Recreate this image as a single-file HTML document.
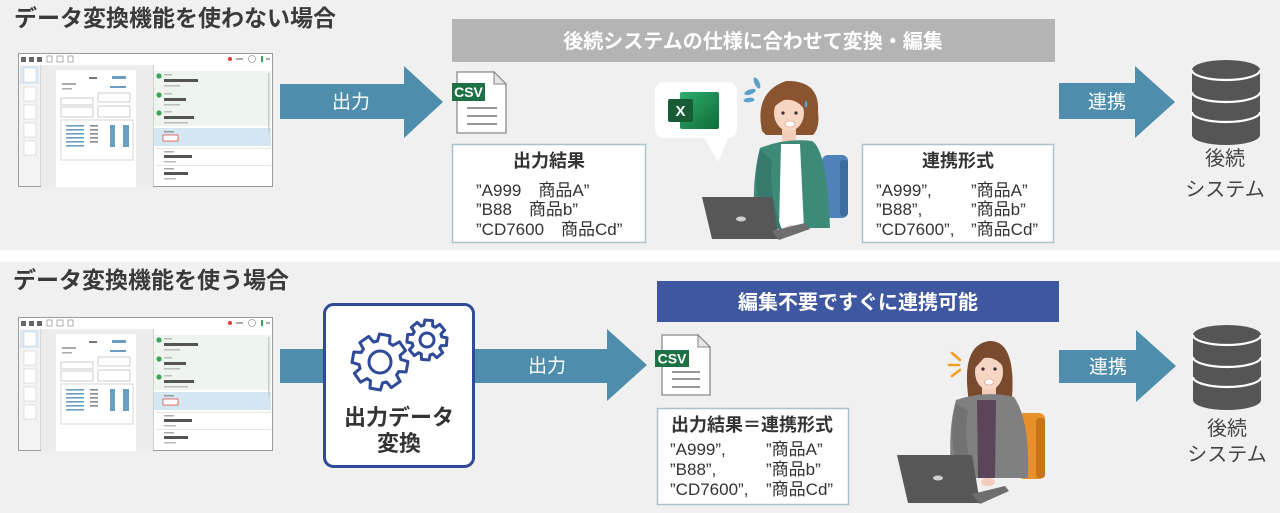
<!DOCTYPE html>
<html><head><meta charset="utf-8">
<style>
html,body{margin:0;padding:0;background:#fff;}
svg{display:block;}
text{font-family:"Liberation Sans","Noto Sans CJK JP",sans-serif;}
</style></head>
<body>
<svg width="1280" height="513" viewBox="0 0 1280 513" xmlns="http://www.w3.org/2000/svg">
<defs>
  <g id="shot">
    <rect x="0.5" y="0.5" width="254" height="133" fill="#fbfbfb" stroke="#9c9c9c"/>
    <rect x="1" y="1" width="253" height="11" fill="#fff"/>
    <rect x="3" y="4" width="5" height="5" fill="#666"/>
    <rect x="11" y="4" width="5" height="5" fill="#666"/>
    <rect x="19" y="4" width="5" height="5" fill="#666"/>
    <rect x="29" y="3" width="5" height="6" fill="none" stroke="#999" stroke-width="0.8"/>
    <rect x="39" y="3" width="6" height="6" fill="none" stroke="#999" stroke-width="0.8"/>
    <rect x="50" y="3" width="5" height="6" fill="none" stroke="#999" stroke-width="0.8"/>
    <circle cx="212" cy="6" r="2" fill="#e53935"/>
    <rect x="218" y="5" width="7" height="2" fill="#aaa"/>
    <circle cx="234" cy="6" r="3.5" fill="none" stroke="#999" stroke-width="0.8"/>
    <rect x="243" y="3" width="2" height="6" fill="#3aa35a"/>
    <rect x="248" y="5" width="4" height="2" fill="#aaa"/>
    <rect x="1" y="12" width="21" height="121" fill="#f3f3f3"/>
    <line x1="22.5" y1="12" x2="22.5" y2="133" stroke="#d6d6d6"/>
    <rect x="2" y="13" width="19" height="18" fill="#dce8f4"/>
    <rect x="6" y="15" width="12" height="14" fill="#fff" stroke="#c8d0d8" stroke-width="0.6"/>
    <rect x="6" y="34" width="12" height="14" fill="#fff" stroke="#d0d0d0" stroke-width="0.6"/>
    <rect x="6" y="52" width="12" height="14" fill="#fff" stroke="#d0d0d0" stroke-width="0.6"/>
    <rect x="6" y="70" width="12" height="14" fill="#fff" stroke="#d0d0d0" stroke-width="0.6"/>
    <rect x="6" y="88" width="12" height="14" fill="#fff" stroke="#d0d0d0" stroke-width="0.6"/>
    <rect x="23" y="12" width="112" height="122" fill="#ececec"/>
    <rect x="38" y="17" width="80" height="117" fill="#fff"/>
    <rect x="71" y="24" width="8" height="2" fill="#777"/>
    <rect x="94" y="23" width="14" height="3" fill="#6a9ec2"/>
    <rect x="44" y="30" width="14" height="2" fill="#aaa"/>
    <rect x="44" y="35" width="10" height="1.5" fill="#aaa"/>
    <rect x="92" y="33" width="16" height="2" fill="#6a9ec2"/>
    <rect x="80" y="40" width="32" height="9" fill="none" stroke="#aaa" stroke-width="0.6"/>
    <rect x="43" y="45" width="32" height="7" fill="none" stroke="#aaa" stroke-width="0.6"/>
    <rect x="43" y="54" width="32" height="10" fill="none" stroke="#aaa" stroke-width="0.6"/>
    <rect x="80" y="53" width="32" height="11" fill="none" stroke="#aaa" stroke-width="0.6"/>
    <rect x="43" y="67" width="72" height="40" fill="none" stroke="#bbb" stroke-width="0.6"/>
    <g fill="#6a9ec2">
      <rect x="48" y="72" width="18" height="1.6"/><rect x="48" y="76" width="18" height="1.6"/><rect x="48" y="80" width="18" height="1.6"/><rect x="48" y="84" width="18" height="1.6"/><rect x="48" y="88" width="18" height="1.6"/><rect x="48" y="92" width="18" height="1.6"/>
      <rect x="92" y="72" width="5" height="22"/><rect x="105" y="72" width="6" height="22"/>
    </g>
    <g fill="#888"><rect x="72" y="72" width="8" height="1.6"/><rect x="72" y="76" width="8" height="1.6"/><rect x="72" y="80" width="8" height="1.6"/><rect x="72" y="84" width="8" height="1.6"/><rect x="72" y="88" width="8" height="1.6"/></g>
    <rect x="135" y="12" width="119" height="121" fill="#fff"/>
    <line x1="135.5" y1="12" x2="135.5" y2="133" stroke="#d0d0d0"/>
    <rect x="136" y="18" width="117" height="55" fill="#eef5ef"/>
    <circle cx="141" cy="23" r="2.6" fill="#3aa35a"/>
    <circle cx="141" cy="42" r="2.6" fill="#3aa35a"/>
    <circle cx="141" cy="60" r="2.6" fill="#3aa35a"/>
    <g fill="#555"><rect x="146" y="26" width="34" height="3"/><rect x="146" y="45" width="22" height="3"/><rect x="146" y="63" width="30" height="3"/></g>
    <g fill="#bbb"><rect x="146" y="21" width="8" height="1.5"/><rect x="146" y="32" width="16" height="1.5"/><rect x="146" y="40" width="8" height="1.5"/><rect x="146" y="51" width="16" height="1.5"/><rect x="146" y="58" width="8" height="1.5"/><rect x="146" y="69" width="24" height="1.5"/></g>
    <rect x="136" y="75" width="117" height="18" fill="#d5e6f3"/>
    <rect x="146" y="78" width="10" height="1.5" fill="#999"/>
    <rect x="145" y="82" width="15" height="6" fill="#fff" stroke="#d33" stroke-width="0.7"/>
    <rect x="138" y="95" width="115" height="1" fill="#e6e6e6"/>
    <rect x="146" y="98" width="10" height="1.5" fill="#aaa"/>
    <rect x="146" y="102" width="28" height="3" fill="#555"/>
    <rect x="146" y="108" width="12" height="1.5" fill="#bbb"/>
    <rect x="138" y="112" width="115" height="1" fill="#e6e6e6"/>
    <rect x="146" y="115" width="10" height="1.5" fill="#aaa"/>
    <rect x="146" y="119" width="24" height="3" fill="#555"/>
    <rect x="146" y="125" width="12" height="1.5" fill="#bbb"/>
    <rect x="250" y="20" width="1.5" height="60" fill="#ccc"/>
  </g>
  <g id="db">
    <path d="M1192,70 A34,10 0 0 1 1260,70 L1260,135 A34,10 0 0 1 1192,135 Z" fill="#555"/>
    <path d="M1192,70 A34,10 0 0 0 1260,70" fill="none" stroke="#fff" stroke-width="2.2"/>
    <path d="M1192,92 A34,10 0 0 0 1260,92" fill="none" stroke="#fff" stroke-width="2.2"/>
    <path d="M1192,112 A34,10 0 0 0 1260,112" fill="none" stroke="#fff" stroke-width="2.2"/>
  </g>
  <path id="tooth" d="M-8.04,-19.40 L-6.14,-20.08 L-5.34,-27.49 L5.34,-27.49 L6.14,-20.08 L8.04,-19.40" fill="none" stroke-linejoin="round" stroke-linecap="round" vector-effect="non-scaling-stroke"/>
</defs>

<!-- backgrounds -->
<rect x="0" y="0" width="1280" height="250" fill="#f0f0f0"/>
<rect x="0" y="262" width="1280" height="251" fill="#f0f0f0"/>

<!-- ===== TOP PANEL ===== -->
<text x="14" y="26" font-size="23" font-weight="bold" fill="#3a3a3a">データ変換機能を使わない場合</text>
<use href="#shot" x="18" y="53"/>

<polygon points="280,84 404,84 404,66 443,102 404,138 404,119 280,119" fill="#4e8dab"/>
<text x="351" y="108" font-size="19" fill="#fff" text-anchor="middle">出力</text>

<rect x="452" y="19" width="603" height="43" fill="#b4b4b4"/>
<text x="753" y="48" font-size="20" font-weight="bold" fill="#fff" text-anchor="middle">後続システムの仕様に合わせて変換・編集</text>

<!-- CSV top -->
<polygon points="457,72 494,72 506,84 506,133 457,133" fill="#fff" stroke="#8a8a8a" stroke-width="1.3"/>
<polygon points="494,72 494,84 506,84" fill="#e6e6e6" stroke="#8a8a8a" stroke-width="1.1"/>
<g stroke="#777" stroke-width="1.4"><line x1="467" y1="108" x2="497" y2="108"/><line x1="467" y1="116" x2="497" y2="116"/><line x1="467" y1="124" x2="497" y2="124"/></g>
<rect x="452" y="83" width="33" height="18" fill="#1e7145"/>
<text x="468.5" y="97" font-size="14" font-weight="bold" fill="#fff" text-anchor="middle">CSV</text>

<!-- Output box top -->
<rect x="452.5" y="144.5" width="193" height="98" fill="#fff" stroke="#a9c2ce" stroke-width="1.5"/>
<text x="549" y="167" font-size="18" font-weight="bold" fill="#333" text-anchor="middle">出力結果</text>
<text x="476" y="196" font-size="17" fill="#333">”A999　商品A”</text>
<text x="476" y="215" font-size="17" fill="#333">”B88　商品b”</text>
<text x="476" y="235" font-size="17" fill="#333">”CD7600　商品Cd”</text>

<!-- Excel bubble -->
<rect x="655" y="82" width="82" height="56" rx="9" fill="#fff"/>
<polygon points="703,136 729,136 718,162" fill="#fff"/>
<defs><linearGradient id="xg" x1="0" y1="0" x2="1" y2="1"><stop offset="0" stop-color="#2dae6f"/><stop offset="1" stop-color="#0f6b39"/></linearGradient></defs>
<rect x="680" y="92" width="39" height="37" rx="2" fill="url(#xg)"/>
<rect x="668" y="99" width="25" height="23" rx="2" fill="#185c37"/>
<text x="680.5" y="116" font-size="15" font-weight="bold" fill="#fff" text-anchor="middle">X</text>

<!-- Woman 1 -->
<rect x="822" y="155" width="26" height="63" rx="6" fill="#4f82b9"/>
<rect x="840" y="160" width="8" height="56" rx="3" fill="#3d6c9e"/>
<path d="M762,131 Q754,92 786,81 Q820,80 818,112 Q820,128 813,135 L766,135 Z" fill="#8a5431"/>
<rect x="782" y="126" width="14" height="18" fill="#f3cdb9"/>
<ellipse cx="789" cy="113" rx="15" ry="18" fill="#f6d5c3"/>
<path d="M772,110 Q775,88 797,90 Q808,96 806,112 Q798,98 784,100 Q776,104 772,110 Z" fill="#8a5431"/>
<circle cx="783" cy="113" r="1.6" fill="#333"/>
<circle cx="796" cy="113" r="1.6" fill="#333"/>
<ellipse cx="790" cy="124" rx="5" ry="3" fill="#fff" stroke="#c98" stroke-width="0.6"/>
<path d="M806,100 q3,5 0,8 q-3,-3 0,-8z" fill="#5aa0c8"/>
<path d="M760,148 Q785,138 812,141 Q827,150 830,228 L755,228 Q751,182 760,148 Z" fill="#3d8a78"/>
<polygon points="781,144 800,144 804,228 779,228" fill="#fff"/>
<path d="M760,150 Q750,190 768,226 L782,230 Q768,192 772,160 Z" fill="#367a6b"/>
<ellipse cx="792" cy="229" rx="7" ry="4" fill="#f3cdb9"/>
<polygon points="702,197 772,197 779,239 712,239" fill="#575757"/>
<polygon points="772,231 805,223 810,229 779,240" fill="#6e6e6e"/>
<ellipse cx="741" cy="219" rx="5" ry="2.5" fill="#cfcfcf"/>
<g fill="#5aa0c8">
  <ellipse cx="757" cy="83" rx="2.5" ry="6" transform="rotate(-25 757 83)"/>
  <ellipse cx="750" cy="92" rx="6" ry="2.5" transform="rotate(-20 750 92)"/>
  <ellipse cx="749" cy="100" rx="5.5" ry="2.3" transform="rotate(-5 749 100)"/>
</g>

<!-- Link box top -->
<rect x="862.5" y="144.5" width="191" height="98" fill="#fff" stroke="#a9c2ce" stroke-width="1.5"/>
<text x="958" y="167" font-size="18" font-weight="bold" fill="#333" text-anchor="middle">連携形式</text>
<text x="876" y="196" font-size="17" fill="#333">”A999”,</text>
<text x="971" y="196" font-size="17" fill="#333">”商品A”</text>
<text x="876" y="215" font-size="17" fill="#333">”B88”,</text>
<text x="971" y="215" font-size="17" fill="#333">”商品b”</text>
<text x="876" y="235" font-size="17" fill="#333">”CD7600”,</text>
<text x="971" y="235" font-size="17" fill="#333">”商品Cd”</text>

<polygon points="1059,83 1135,83 1135,66 1175,102 1135,138 1135,119 1059,119" fill="#4e8dab"/>
<text x="1107" y="108" font-size="19" fill="#fff" text-anchor="middle">連携</text>

<use href="#db"/>
<text x="1225" y="165" font-size="20" fill="#444" text-anchor="middle">後続</text>
<text x="1225" y="196" font-size="20" fill="#444" text-anchor="middle">システム</text>

<!-- ===== BOTTOM PANEL ===== -->
<text x="13" y="288" font-size="23" font-weight="bold" fill="#3a3a3a">データ変換機能を使う場合</text>
<use href="#shot" x="18" y="317"/>

<rect x="280" y="349" width="46" height="34" fill="#4e8dab"/>
<polygon points="472,349 607,349 607,329 647,365 607,401 607,383 472,383" fill="#4e8dab"/>
<text x="547" y="372" font-size="19" fill="#fff" text-anchor="middle">出力</text>

<rect x="324.5" y="304.5" width="149" height="162" rx="9" fill="#fff" stroke="#2f4a99" stroke-width="3"/>
<g stroke="#2f4a99" stroke-width="3">
  <g transform="translate(380,362) rotate(10)">
    <use href="#tooth"/><use href="#tooth" transform="rotate(45)"/><use href="#tooth" transform="rotate(90)"/><use href="#tooth" transform="rotate(135)"/>
    <use href="#tooth" transform="rotate(180)"/><use href="#tooth" transform="rotate(225)"/><use href="#tooth" transform="rotate(270)"/><use href="#tooth" transform="rotate(315)"/>
  </g>
  <circle cx="380" cy="362" r="11" fill="none"/>
  <g transform="translate(427,340) scale(0.72) rotate(5)">
    <use href="#tooth"/><use href="#tooth" transform="rotate(45)"/><use href="#tooth" transform="rotate(90)"/><use href="#tooth" transform="rotate(135)"/>
    <use href="#tooth" transform="rotate(180)"/><use href="#tooth" transform="rotate(225)"/><use href="#tooth" transform="rotate(270)"/><use href="#tooth" transform="rotate(315)"/>
  </g>
  <circle cx="427" cy="340" r="7" fill="none"/>
</g>
<text x="399" y="425" font-size="22" font-weight="bold" fill="#333" text-anchor="middle">出力データ</text>
<text x="399" y="451" font-size="22" font-weight="bold" fill="#333" text-anchor="middle">変換</text>

<rect x="657" y="281" width="402" height="41" fill="#3f56a1"/>
<text x="858" y="309" font-size="20" font-weight="bold" fill="#fff" text-anchor="middle">編集不要ですぐに連携可能</text>

<!-- CSV bottom -->
<polygon points="662,335 698,335 710,347 710,395 662,395" fill="#fff" stroke="#8a8a8a" stroke-width="1.3"/>
<polygon points="698,335 698,347 710,347" fill="#e6e6e6" stroke="#8a8a8a" stroke-width="1.1"/>
<g stroke="#777" stroke-width="1.4"><line x1="672" y1="372" x2="700" y2="372"/><line x1="672" y1="379" x2="700" y2="379"/><line x1="672" y1="387" x2="700" y2="387"/></g>
<rect x="655" y="350" width="34" height="17" fill="#1e7145"/>
<text x="672" y="363.5" font-size="14" font-weight="bold" fill="#fff" text-anchor="middle">CSV</text>

<rect x="657.5" y="408.5" width="191" height="96" fill="#fff" stroke="#a9c2ce" stroke-width="1.5"/>
<text x="671" y="431" font-size="18" font-weight="bold" fill="#333">出力結果＝連携形式</text>
<text x="670" y="455" font-size="17" fill="#333">”A999”,</text>
<text x="766" y="455" font-size="17" fill="#333">”商品A”</text>
<text x="670" y="475" font-size="17" fill="#333">”B88”,</text>
<text x="766" y="475" font-size="17" fill="#333">”商品b”</text>
<text x="670" y="495" font-size="17" fill="#333">”CD7600”,</text>
<text x="766" y="495" font-size="17" fill="#333">”商品Cd”</text>

<!-- Woman 2 -->
<rect x="1018" y="413" width="27" height="66" rx="6" fill="#e8902c"/>
<rect x="1036" y="418" width="9" height="60" rx="3" fill="#c8741d"/>
<path d="M969,402 Q960,344 990,341 Q1016,341 1012,398 L1008,404 Z" fill="#7a4a2e"/>
<rect x="982" y="386" width="14" height="16" fill="#f3cdb9"/>
<ellipse cx="989" cy="372" rx="14" ry="18" fill="#f6d5c3"/>
<path d="M975,368 Q978,348 993,349 Q1004,352 1004,368 Q996,356 984,358 Z" fill="#7a4a2e"/>
<circle cx="983" cy="369" r="1.6" fill="#333"/>
<circle cx="995" cy="369" r="1.6" fill="#333"/>
<ellipse cx="989" cy="382" rx="4.5" ry="3" fill="#fff" stroke="#c98" stroke-width="0.6"/>
<g stroke="#f0a020" stroke-width="2.6" stroke-linecap="round">
  <line x1="952" y1="353" x2="960" y2="360"/><line x1="949" y1="365" x2="959" y2="365"/><line x1="952" y1="376" x2="960" y2="370"/>
</g>
<path d="M956,400 Q985,390 1014,397 Q1030,420 1028,478 L952,478 Q947,432 956,400 Z" fill="#808080"/>
<polygon points="977,400 996,400 995,478 978,478" fill="#5a4658"/>
<path d="M956,404 Q946,440 962,476 L976,480 Q962,444 968,410 Z" fill="#727272"/>
<ellipse cx="988" cy="482" rx="7" ry="4" fill="#f3cdb9"/>
<polygon points="897,455 972,455 980,503 908,503" fill="#575757"/>
<polygon points="972,494 1005,486 1009,491 980,504" fill="#6e6e6e"/>
<ellipse cx="938" cy="478" rx="5" ry="2.5" fill="#cfcfcf"/>

<polygon points="1059,350 1136,350 1136,330 1176,366 1136,402 1136,383 1059,383" fill="#4e8dab"/>
<text x="1108" y="373" font-size="19" fill="#fff" text-anchor="middle">連携</text>

<use href="#db" transform="translate(1,265)"/>
<text x="1227" y="435" font-size="20" fill="#444" text-anchor="middle">後続</text>
<text x="1227" y="461" font-size="20" fill="#444" text-anchor="middle">システム</text>
</svg>
</body></html>
